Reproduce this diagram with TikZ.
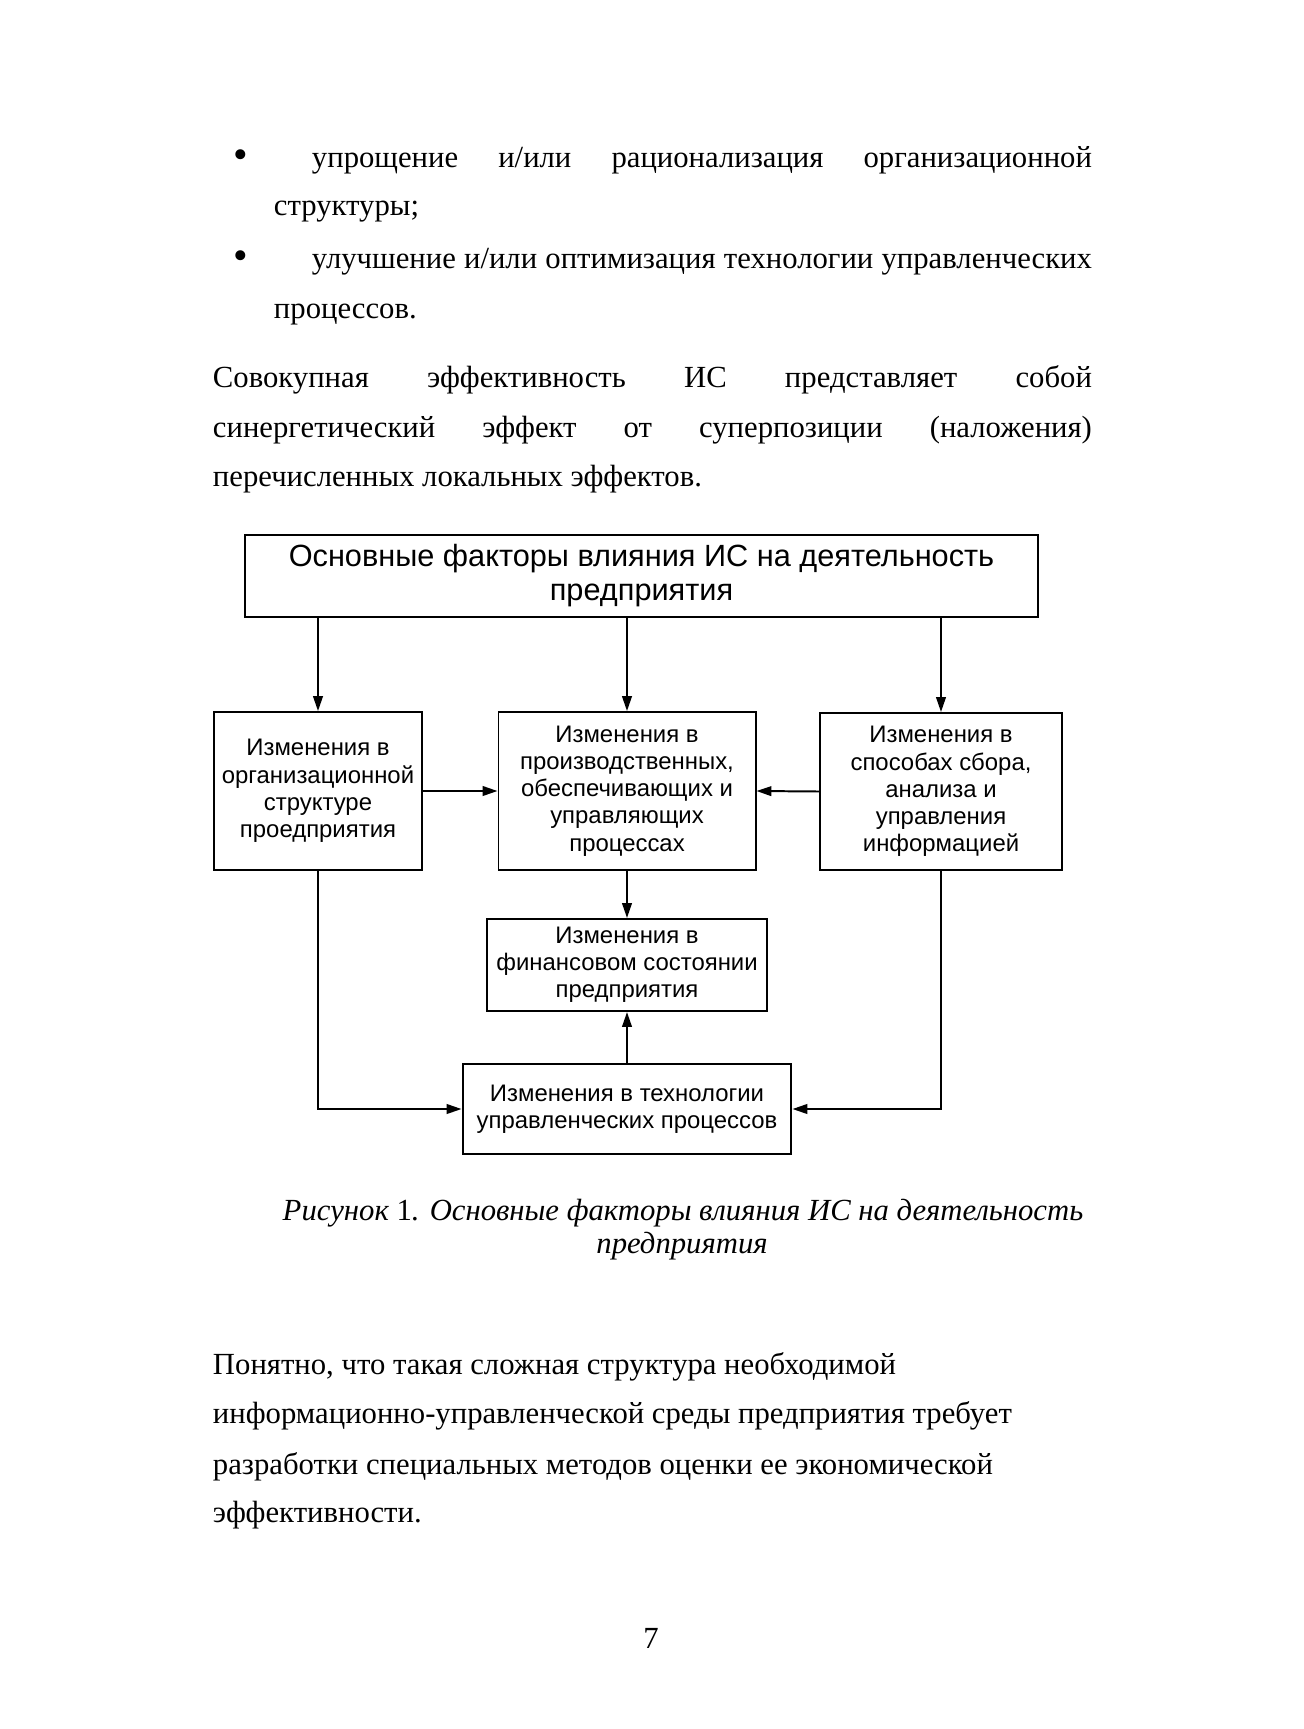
\documentclass[tikz,border=0pt]{standalone}
\usepackage{fontspec}
\setmainfont{Liberation Serif}
\newfontfamily\diagfont{Liberation Sans}
\usetikzlibrary{arrows.meta, positioning}

\begin{document}
\begin{tikzpicture}[
		x=0.456pt, y=-0.456pt,
		txt/.style={inner sep=0pt, anchor=mid west, font=\fontsize{14}{17}\selectfont},
		dot/.style={inner sep=0pt, anchor=center, font=\fontsize{19}{20}\selectfont},
		box/.style={draw, line width=0.9pt, inner sep=2pt, align=center, font=\diagfont\fontsize{10.9}{12.4}\selectfont},
		captext/.style={inner sep=0pt, font=\itshape\fontsize{14}{16}\selectfont},
		->, >={Triangle[length=6.8pt, width=4.4pt]}, line width=0.9pt, black
		]
		
		% page
		\fill[white,-] (0,0) rectangle (1304,1729);
		\useasboundingbox (0,0) rectangle (1304,1729);
		
		% text above
		\node[dot] (bullet1) at (241,159) {•};
		\node[txt] (line1) at (311,162.5) {\makebox[355.7pt][s]{упрощение и/или рационализация организационной}};
		\node[txt] (line2) at (273,210.5) {структуры;};
		\node[dot] (bullet2) at (241,260) {•};
		\node[txt] (line3) at (311,263.5) {\makebox[355.7pt][s]{улучшение и/или оптимизация технологии управленческих}};
		\node[txt] (line4) at (273,313.5) {процессов.};
		\node[txt] (para1) at (212,382.5) {\makebox[400.8pt][s]{Совокупная эффективность ИС представляет собой}};
		\node[txt] (para2) at (212,432.5) {\makebox[400.8pt][s]{синергетический эффект от суперпозиции (наложения)}};
		\node[txt] (para3) at (212,481.5) {перечисленных локальных эффектов.};
		
		% diagram
		\node[box, minimum width=361.6pt, minimum height=37.4pt, font=\diagfont\fontsize{14}{15.5}\selectfont] (factors) at (641.5,576) {Основные факторы влияния ИС на деятельность\\предприятия};
		\node[box, minimum width=94.8pt, minimum height=72pt] (orgchange) at (318,791) {Изменения в\\организационной\\структуре\\проедприятия};
		\node[box, minimum width=117.2pt, minimum height=72pt] (procchange) at (627,791) {Изменения в\\производственных,\\обеспечивающих и\\управляющих\\процессах};
		\node[box, minimum width=110.4pt, minimum height=71.6pt] (infochange) at (941,791.5) {Изменения в\\способах сбора,\\анализа и\\управления\\информацией};
		\node[box, minimum width=128.1pt, minimum height=42pt] (finchange) at (627,965) {Изменения в\\финансовом состоянии\\предприятия};
		\node[box, minimum width=150pt, minimum height=41pt] (techchange) at (627,1109) {Изменения в технологии\\управленческих процессов};
		
		\draw (factors.south -| orgchange.north) -- (orgchange.north);
		\draw (factors.south -| procchange.north) -- (procchange.north);
		\draw (factors.south -| infochange.north) -- (infochange.north);
		\draw (orgchange.east) -- (procchange.west);
		\draw (infochange.west) -- (procchange.east);
		\draw (procchange.south) -- (finchange.north);
		\draw (techchange.north) -- (finchange.south);
		\draw (orgchange.south) |- (techchange.west);
		\draw (infochange.south) |- (techchange.east);
		
		% caption
		\node[captext] (caption1) at (683,1213) {Рисунок {\upshape 1}. Основные факторы влияния ИС на деятельность};
		\node[captext] (caption2) at (682,1246) {предприятия};
		
		% text below
		\node[txt] (after1) at (212,1369) {Понятно, что такая сложная структура необходимой};
		\node[txt] (after2) at (212,1418) {информационно-управленческой среды предприятия требует};
		\node[txt] (after3) at (212,1469) {разработки специальных методов оценки ее экономической};
		\node[txt] (after4) at (212,1517) {эффективности.};
		\node[txt, anchor=center] (pagenum) at (651,1638) {7};
		
	\end{tikzpicture}
\end{document}
